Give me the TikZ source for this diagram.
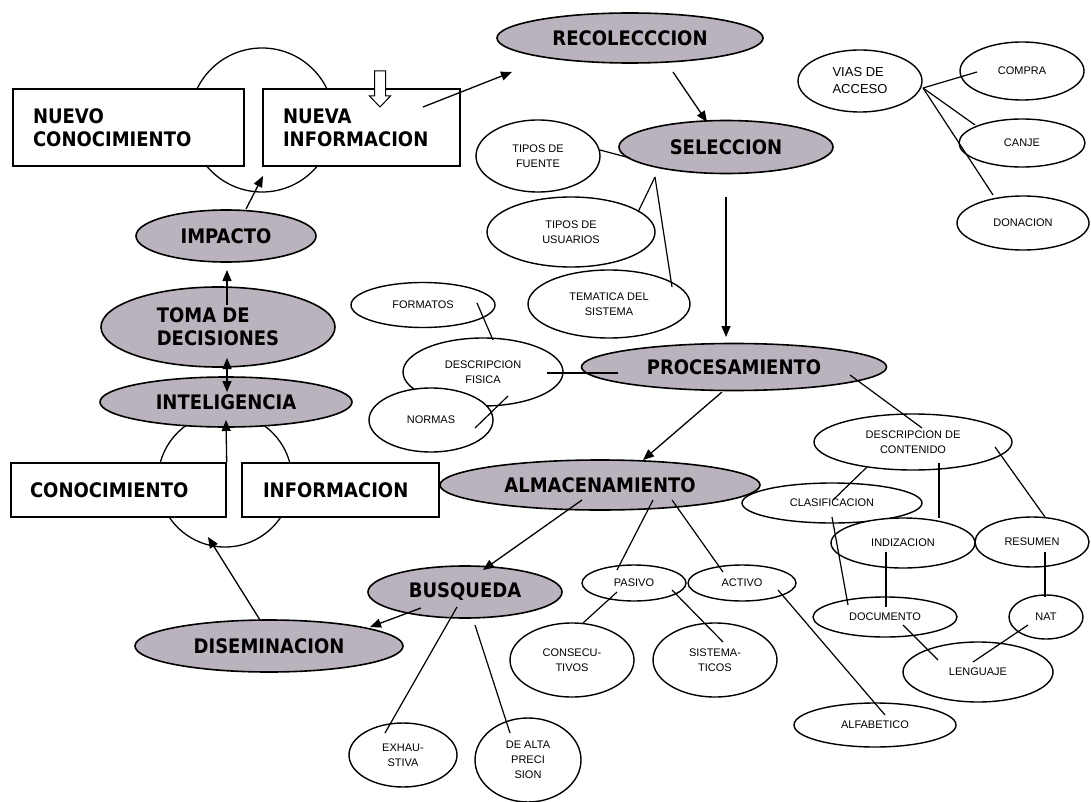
\documentclass[tikz,border=0pt]{standalone}
\usepackage{fontspec}
\setmainfont{Liberation Sans}
\newfontfamily\gruesa[FakeStretch=0.9]{DejaVu Sans}
\usetikzlibrary{shapes.geometric,arrows.meta}
\definecolor{grisfase}{RGB}{186,178,188}

\begin{document}
\begin{tikzpicture}[x=1pt,y=-1pt,
    fase/.style={ellipse,draw,line width=1.6pt,fill=grisfase,inner sep=0pt,align=left,
      font=\gruesa\bfseries\fontsize{20}{23}\selectfont},
    tema/.style={ellipse,draw,line width=1.4pt,fill=white,inner sep=0pt,align=center,
      font=\fontsize{11}{15}\selectfont},
    caja/.style={rectangle,draw,line width=1.4pt,fill=white,inner ysep=2pt,align=left,
      font=\gruesa\bfseries\fontsize{20}{23}\selectfont},
    ciclo/.style={circle,draw,line width=1.3pt,inner sep=0pt},
    flecha/.style={line width=1.3pt,-{Triangle[length=11pt,width=9pt]}},
    doble/.style={line width=1.3pt,{Triangle[length=11pt,width=9pt]}-{Triangle[length=11pt,width=9pt]}},
    linea/.style={line width=1.2pt}]
  \fill[white] (0,0) rectangle (1091,802);
  \useasboundingbox (0,0) rectangle (1091,802);

  \node[ciclo,minimum size=144pt] (ciclo1) at (262,120) {};
  \node[ciclo,minimum size=134pt] (ciclo2) at (225,480) {};

  \node[caja,text width=191pt,inner xsep=20pt,minimum height=77pt] (nuevoc) at (128.5,127.5) {NUEVO\\CONOCIMIENTO};
  \node[caja,text width=157pt,inner xsep=20pt,minimum height=77pt] (nuevai) at (361.5,127.5) {NUEVA\\INFORMACION};
  \node[caja,text width=177pt,inner xsep=19pt,minimum height=54pt] (conoc) at (118.5,490) {CONOCIMIENTO};
  \node[caja,text width=155pt,inner xsep=21pt,minimum height=54pt] (inform) at (340.5,490) {INFORMACION};

  \draw[line width=1pt,fill=white] (374.5,71) -- (385.5,71) -- (385.5,96) -- (390.5,96)
    -- (380,107) -- (369.5,96) -- (374.5,96) -- cycle;

  \node[fase,minimum width=180pt,minimum height=52pt] (impacto) at (226,236) {IMPACTO};
  \node[fase,minimum width=234pt,minimum height=80pt] (toma) at (218,327) {TOMA DE\\DECISIONES};
  \node[fase,minimum width=252pt,minimum height=50pt] (intel) at (226,402) {INTELIGENCIA};
  \node[fase,minimum width=268pt,minimum height=52pt] (disem) at (269,646) {DISEMINACION};
  \node[fase,minimum width=266pt,minimum height=50pt] (recol) at (630,38) {RECOLECCCION};
  \node[fase,minimum width=214pt,minimum height=53pt] (selec) at (726,147) {SELECCION};
  \node[fase,minimum width=305pt,minimum height=47pt] (procesa) at (734,367) {PROCESAMIENTO};
  \node[fase,minimum width=320pt,minimum height=50pt] (almacen) at (600,485) {ALMACENAMIENTO};
  \node[fase,minimum width=194pt,minimum height=52pt] (busq) at (465,592) {BUSQUEDA};

  \node[tema,minimum width=124pt,minimum height=72pt] (tfuente) at (538,156) {TIPOS DE\\FUENTE};
  \node[tema,minimum width=168pt,minimum height=70pt] (tusuar) at (571,232) {TIPOS DE\\USUARIOS};
  \node[tema,minimum width=162pt,minimum height=68pt] (temat) at (609,304) {TEMATICA DEL\\SISTEMA};
  \node[tema,minimum width=124pt,minimum height=62pt,align=left,font=\fontsize{13}{17}\selectfont] (vias) at (860,81) {VIAS DE\\ACCESO};
  \node[tema,minimum width=124pt,minimum height=58pt] (compra) at (1022,71) {COMPRA};
  \node[tema,minimum width=126pt,minimum height=48pt] (canje) at (1022,143) {CANJE};
  \node[tema,minimum width=132pt,minimum height=54pt] (donac) at (1023,223) {DONACION};
  \node[tema,minimum width=144pt,minimum height=45pt] (formatos) at (423,305) {FORMATOS};
  \node[tema,minimum width=160pt,minimum height=68pt] (descfis) at (483,372) {DESCRIPCION\\FISICA};
  \node[tema,minimum width=124pt,minimum height=64pt] (normas) at (431,420) {NORMAS};
  \node[tema,minimum width=198pt,minimum height=56pt] (desccont) at (913,442) {DESCRIPCION DE\\CONTENIDO};
  \node[tema,minimum width=180pt,minimum height=40pt] (clasif) at (832,503) {CLASIFICACION};
  \node[tema,minimum width=144pt,minimum height=50pt] (indiz) at (903,543) {INDIZACION};
  \node[tema,minimum width=114pt,minimum height=50pt] (resumen) at (1032,542) {RESUMEN};
  \node[tema,minimum width=144pt,minimum height=40pt] (docum) at (885,617) {DOCUMENTO};
  \node[tema,minimum width=74pt,minimum height=44pt] (nat) at (1046,617) {NAT};
  \node[tema,minimum width=150pt,minimum height=60pt] (lenguaje) at (978,672) {LENGUAJE};
  \node[tema,minimum width=104pt,minimum height=36pt] (pasivo) at (634,583) {PASIVO};
  \node[tema,minimum width=108pt,minimum height=36pt] (activo) at (742,583) {ACTIVO};
  \node[tema,minimum width=124pt,minimum height=74pt] (consec) at (572,660) {CONSECU-\\TIVOS};
  \node[tema,minimum width=124pt,minimum height=74pt] (sistem) at (715,660) {SISTEMA-\\TICOS};
  \node[tema,minimum width=162pt,minimum height=44pt] (alfab) at (875,725) {ALFABETICO};
  \node[tema,minimum width=108pt,minimum height=64pt] (exhaus) at (403,755) {EXHAU-\\STIVA};
  \node[tema,minimum width=106pt,minimum height=84pt] (dealta) at (528,760) {DE ALTA\\PRECI\\SION};

  \path[flecha]
    ([shift={(61.5,-20.5)}]nuevai.center) edge ([shift={(-118,34)}]recol.center)
    ([shift={(20,-27)}]impacto.center) edge ([shift={(1,56)}]ciclo1.center)
    ([shift={(9,-22)}]toma.center) edge ([shift={(1,34)}]impacto.center)
    (conoc.north east) edge ([shift={(0,18)}]intel.center)
    ([shift={(-9,-26)}]disem.center) edge ([shift={(-17,57)}]ciclo2.center)
    ([shift={(-44,16)}]busq.center) edge ([shift={(101,-19)}]disem.center)
    ([shift={(-18,15)}]almacen.center) edge ([shift={(18,-22)}]busq.center)
    ([shift={(43,34)}]recol.center) edge ([shift={(-19,-25)}]selec.center)
    ([shift={(0,50)}]selec.center) edge ([shift={(-8,-30)}]procesa.center)
    ([shift={(-12,25)}]procesa.center) edge ([shift={(43,-25)}]almacen.center);
  \path[doble] ([shift={(9,31)}]toma.center) edge ([shift={(1,-10)}]intel.center);

  \path[linea]
    ([shift={(62,-6)}]tfuente.center) edge ([shift={(-96,11)}]selec.center)
    ([shift={(-71,30)}]selec.center) edge ([shift={(67,-20)}]tusuar.center)
    ([shift={(-71,30)}]selec.center) edge ([shift={(63,-17)}]temat.center)
    ([shift={(63,7)}]vias.center) edge ([shift={(-45,1)}]compra.center)
    ([shift={(63,7)}]vias.center) edge ([shift={(-47,-18)}]canje.center)
    ([shift={(63,7)}]vias.center) edge ([shift={(-30,-28)}]donac.center)
    ([shift={(54,-2)}]formatos.center) edge ([shift={(10,-32)}]descfis.center)
    ([shift={(64,1)}]descfis.center) edge ([shift={(-116,6)}]procesa.center)
    ([shift={(44,8)}]normas.center) edge ([shift={(25,24)}]descfis.center)
    ([shift={(116,8)}]procesa.center) edge ([shift={(9,-14)}]desccont.center)
    ([shift={(-8,15)}]busq.center) edge ([shift={(-18,-22)}]exhaus.center)
    ([shift={(10,33)}]busq.center) edge ([shift={(-18,-27)}]dealta.center)
    ([shift={(53,15)}]almacen.center) edge ([shift={(-17,-13)}]pasivo.center)
    ([shift={(72,15)}]almacen.center) edge ([shift={(-19,-11)}]activo.center)
    ([shift={(-17,9)}]pasivo.center) edge ([shift={(11,-37)}]consec.center)
    ([shift={(38,7)}]pasivo.center) edge ([shift={(8,-18)}]sistem.center)
    ([shift={(36,7)}]activo.center) edge ([shift={(10,-10)}]alfab.center)
    ([shift={(-46,25)}]desccont.center) edge ([shift={(1,-3)}]clasif.center)
    ([shift={(26,21)}]desccont.center) edge ([shift={(36,-25)}]indiz.center)
    ([shift={(82,5)}]desccont.center) edge ([shift={(13,-25)}]resumen.center)
    ([shift={(0,14)}]clasif.center) edge ([shift={(-37,-12)}]docum.center)
    ([shift={(-17,9)}]indiz.center) edge ([shift={(1,-10)}]docum.center)
    ([shift={(13,10)}]resumen.center) edge ([shift={(-1,-20)}]nat.center)
    ([shift={(18,8)}]docum.center) edge ([shift={(-40,-12)}]lenguaje.center)
    ([shift={(-18,8)}]nat.center) edge ([shift={(-5,-10)}]lenguaje.center);
\end{tikzpicture}
\end{document}
